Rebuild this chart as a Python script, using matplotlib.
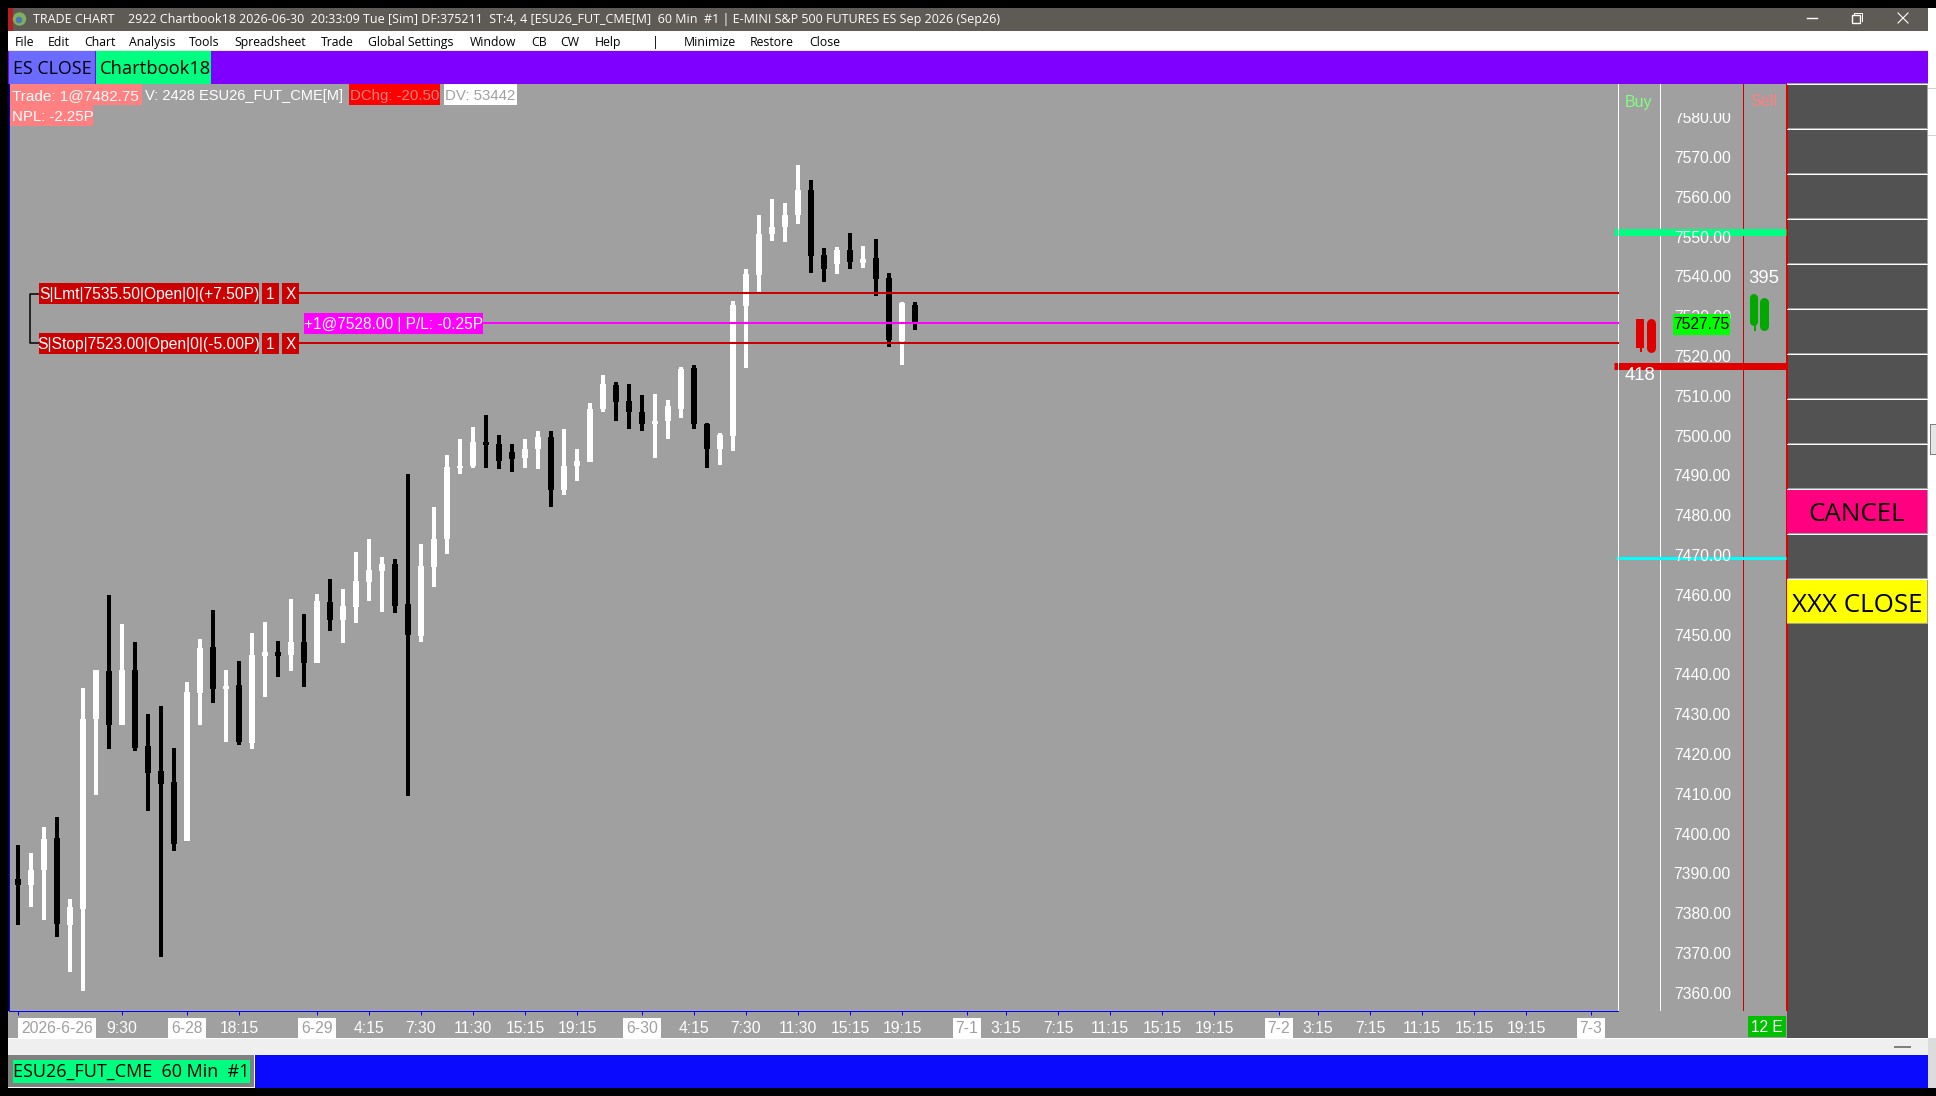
import matplotlib
matplotlib.use("Agg")
import matplotlib.pyplot as plt
from matplotlib.patches import Rectangle
from matplotlib.transforms import blended_transform_factory as blend, ScaledTranslation

W, H, DPI = 1936, 1096, 100
PX = 72 / DPI

# ---------- data ----------
highs = [7396.75,7394.75,7401.25,7404,7383.25,7436.25,7440.75,7459.75,7452.25,7447.75,
         7429.75,7431.75,7421.25,7437.75,7448.5,7456,7440.75,7443,7450,7452.75,
         7448,7458.75,7455,7460,7463.75,7461.25,7470.5,7473.75,7469.25,7468.75,
         7490,7472.5,7481.75,7494.75,7498.75,7501.75,7505,7499.75,7497.5,7498.75,
         7500.75,7500.75,7501.25,7496.25,7508,7515,7513.25,7512.75,7510,7510.25,
         7508.75,7517,7517.5,7503,7500.25,7533.5,7541.5,7555.25,7559.25,7558.25,
         7567.75,7564,7546.75,7547,7550.5,7547.25,7549,7540.5,7533.25,7533.25]
lows = [7376.75,7381.25,7378,7373.75,7365,7360.25,7409.5,7421,7427,7420.5,
        7405.5,7368.75,7395.25,7397.75,7427,7432.5,7422.75,7422,7421,7434,
        7439,7440.5,7436.5,7442.5,7450.5,7447.5,7452.5,7458.25,7455.5,7455.25,
        7409.25,7447.75,7461.75,7470,7490,7491.5,7491.5,7491.25,7490.5,7491.5,
        7491.25,7481.75,7484.75,7488.25,7493,7505.75,7503.5,7501.25,7500.75,7494,
        7498.75,7504.25,7501.25,7491.5,7492.25,7495.75,7516.75,7535.5,7548.5,7548.25,
        7553,7540.5,7538.25,7540.25,7541.5,7541.75,7534.75,7522,7517.5,7526.25]
opens = [7388.25,7386.75,7390.5,7398.5,7376.75,7380.75,7428.5,7440.5,7427,7440.75,
         7421.75,7415.5,7412.75,7397.75,7435,7446.5,7436,7437,7422.5,7444.25,
         7445.25,7444.5,7447.75,7442.5,7458,7453.5,7456.75,7463,7465.75,7467.5,
         7457.5,7449.25,7466.75,7473.75,7491.5,7492,7498,7497.5,7495.5,7494,
         7496.25,7499.25,7486,7492,7493,7506.5,7512.5,7508.5,7505.75,7502.5,
         7503.5,7506.5,7516.75,7502.5,7496.25,7499.5,7532.25,7540,7550.25,7552,
         7555.25,7561.5,7545,7542.75,7546.25,7543,7544.25,7539.25,7523.5,7532.5]
closes = [7386.75,7390.5,7398.25,7377,7381.25,7428.5,7440.75,7427,7440.75,7421.25,
          7415,7412.25,7397,7435.25,7446.25,7436,7436.75,7422.75,7444.5,7445.25,
          7444.25,7447.75,7442.5,7458.25,7453.5,7457,7463.25,7466,7467.5,7457,
          7449.5,7467,7473.75,7491.75,7492,7498,7497.25,7493.25,7493.75,7496.25,
          7499.25,7486,7492,7493.25,7506.5,7512.75,7508.25,7505.75,7502.5,7503.5,
          7507.25,7516.5,7502.5,7496.25,7499.75,7532.5,7540.25,7550.25,7552,7555.25,
          7561.5,7544.75,7541.5,7546.25,7543.25,7544,7539,7523.75,7533,7527.75]

price_ticks = list(range(7360, 7590, 10))
date_idx = [0, 13, 23, 48, 73, 97, 121]
date_lab = ["2026-6-26", "6-28", "6-29", "6-30", "7-1", "7-2", "7-3"]
time_idx = [8, 17, 27, 31, 35, 39, 43, 52, 56, 60, 64, 68, 76, 80, 84, 88, 92, 100, 104, 108, 112, 116]
time_lab = ["9:30", "18:15", "4:15", "7:30", "11:30", "15:15", "19:15", "4:15", "7:30", "11:30",
            "15:15", "19:15", "3:15", "7:15", "11:15", "15:15", "19:15", "3:15", "7:15", "11:15",
            "15:15", "19:15"]
limit_price, stop_price, entry_price, last_price = 7535.5, 7523.0, 7528.0, 7527.75
ask_level, bid_level, cyan_level = 7550.75, 7517.25, 7469.0
buy_blobs = [(7521.75, 7529.0), (7521.75, 7528.0), (7520.75, 7523.0)]
sell_blobs = [(7528.25, 7534.25), (7527.25, 7533.25), (7526.0, 7529.0)]
menu = [("File",15),("Edit",48),("Chart",84),("Analysis",129),("Tools",189),("Spreadsheet",234),
        ("Trade",321),("Global Settings",368.5),("Window",470),("CB",531.5),("CW",560),("Help",595),
        ("|",652),("Minimize",684),("Restore",750),("Close",809)]
title = ("TRADE CHART", "2922 Chartbook18 2026-06-30  20:33:09 Tue [Sim] DF:375211  ST:4, 4 [ESU26_FUT_CME[M]  "
         "60 Min  #1 | E-MINI S&P 500 FUTURES ES Sep 2026 (Sep26)")

GREY = "#A0A0A0"; DARK = "#525252"; RED = "#CC0000"; LIB = "Liberation Sans"; OS = "Open Sans"

fig = plt.figure(figsize=(W / DPI, H / DPI), dpi=DPI, facecolor="black")


def px_axes(z):
    a = fig.add_axes([0, 0, 1, 1], zorder=z)
    a.set_xlim(0, W); a.set_ylim(H, 0); a.axis("off"); a.patch.set_visible(False)
    return a


chrome = px_axes(0)
over = px_axes(5)


def box(a, x0, y0, x1, y1, c, z=1, **k):
    a.add_patch(Rectangle((x0, y0), x1 - x0, y1 - y0, facecolor=c, edgecolor="none", linewidth=0, zorder=z, **k))


def txt(a, x, y, s, px, c, ha="left", fam=LIB, z=6, **k):
    return a.text(x, y + 1.2, s, fontsize=px * PX, color=c, ha=ha, va="center", family=fam, zorder=z, **k)


# ---------- window chrome ----------
box(chrome, 1928, 8, 1936, 1088, "#FFFFFF")
box(chrome, 1928, 1038, 1936, 1088, "#DCDCDC")
box(chrome, 1928, 88, 1936, 89, "#D0D0D0", 2)
box(chrome, 1928, 135, 1936, 136, "#D0D0D0", 2)
box(chrome, 1930, 424, 1936, 455, "#808080", 2)
box(chrome, 1931, 425, 1936, 454, "#E6E6E6", 3)
box(chrome, 8, 8, 1928, 31, "#5E5A55")
box(chrome, 8, 8, 12.5, 31, "#B02020", 2)
chrome.add_patch(plt.Circle((19.5, 19), 6, color="#7FB05A", zorder=2))
chrome.add_patch(plt.Circle((19, 20), 2.6, color="#4A78B8", zorder=3))
txt(chrome, 33, 18.5, title[0], 12.5, "white", fam=OS)
txt(chrome, 128, 18.5, title[1], 12.5, "white", fam=OS)
chrome.plot([1807, 1817], [18, 18], color="white", lw=1 * PX * 1.4, zorder=3)
chrome.add_patch(Rectangle((1852, 15), 8, 8, fill=False, edgecolor="white", lw=1, zorder=3))
chrome.plot([1854, 1854, 1862, 1862], [15, 13, 13, 21], color="white", lw=0.7, zorder=3)
chrome.plot([1898, 1908], [13, 23], color="white", lw=0.8, zorder=3)
chrome.plot([1898, 1908], [23, 13], color="white", lw=0.8, zorder=3)
box(chrome, 8, 31, 1928, 50, "#FFFFFF")
box(chrome, 8, 50, 1928, 51, "#E8E8E8")
for name, x in menu:
    txt(chrome, x, 41, name, 12.3, "black", fam=OS)
box(chrome, 8, 51, 1928, 84, "#8000FF")
box(chrome, 9, 51, 95, 84, "#6B6BFF", 2)
box(chrome, 96, 51, 211, 84, "#00FF80", 2)
txt(chrome, 13, 68, "ES CLOSE", 17.7, "black", fam=OS)
txt(chrome, 100, 68, "Chartbook18", 18.4, "black", fam=OS)

# right column background and panel
box(chrome, 1618, 84, 1787, 1038, GREY)
box(chrome, 8, 1011, 1750, 1038, GREY)
box(chrome, 1787, 84, 1928, 1038, DARK)
rows = [84, 129, 174, 219, 264, 309, 354, 399, 444, 489, 534, 579, 624]
for y in rows[:-1]:
    box(chrome, 1787, y - 1, 1927.5, y + 0.5, "#A0A0A0", 2)
    box(chrome, 1787, y, 1927.5, y + 1, "#FFFFFF", 3)
box(chrome, 1926.5, 84, 1928, 624, "#A0A0A0", 2)
box(chrome, 1787, 489.5, 1927, 533, "#FF0080", 4)
box(chrome, 1787, 580, 1927, 623, "#FFFF00", 4)
box(chrome, 1787, 623, 1928, 624, "#A0A0A0", 4)
txt(chrome, 1857, 513, "CANCEL", 26, "black", ha="center", fam=OS)
txt(chrome, 1857, 604.5, "XXX CLOSE", 26, "black", ha="center", fam=OS)
box(chrome, 1743, 84, 1744, 1011, RED, 2)
box(chrome, 1785.5, 84, 1787.5, 1011, "#E00000", 2)
box(chrome, 1660, 84, 1661, 1011, "white", 2)
box(chrome, 1748, 1016, 1786, 1037, "#00C000", 3)
txt(chrome, 1767, 1026, "12 E", 15.5, "white", ha="center")

# bottom strips
box(chrome, 8, 1038, 1928, 1039, "white", 3)
box(chrome, 8, 1039, 1928, 1055, "#EFEFEF")
box(chrome, 1894, 1046, 1911, 1048, "#808080", 2)
box(chrome, 8, 1055, 1928, 1088, "#0A0AFF")
box(chrome, 8, 1055, 254.5, 1088, "#808080", 2)
box(chrome, 8, 1087, 254.5, 1088, "white", 3)
box(chrome, 253.5, 1055, 254.5, 1088, "white", 3)
box(chrome, 13, 1060, 250, 1083, "#00FF80", 3)
txt(chrome, 13, 1071, "ESU26_FUT_CME  60 Min  #1", 18, "black", fam=OS)

# ---------- chart ----------
ax = fig.add_axes([9 / W, 1 - 1011 / H, (1618 - 9) / W, (1011 - 84) / H], zorder=2, facecolor=GREY)
ax.set_xlim((9 - 18) / 13, (1618 - 18) / 13)
ax.set_ylim(7528 + (323 - 1011) / 3.98, 7528 + (323 - 84) / 3.98)
ax.set_axisbelow(False)
bt = blend(chrome.transData, ax.transData)

xs = list(range(len(opens)))
colors = ["white" if c >= o else "black" for o, c in zip(opens, closes)]
ax.bar(xs, [h - l for h, l in zip(highs, lows)], bottom=lows, width=4 / 13, color=colors, linewidth=0, zorder=3)
ax.bar(xs, [abs(c - o) for o, c in zip(opens, closes)], bottom=[min(o, c) for o, c in zip(opens, closes)],
       width=6 / 13, color=colors, linewidth=0, zorder=3)

lw2 = 2 * PX
ax.plot([299, 1618], [limit_price] * 2, color=RED, lw=lw2, transform=bt, zorder=4, clip_on=False)
ax.plot([299, 1618], [stop_price] * 2, color=RED, lw=lw2, transform=bt, zorder=4, clip_on=False)
ax.plot([483, 1618], [entry_price] * 2, color="#FF00FF", lw=lw2, transform=bt, zorder=4, clip_on=False)
ax.plot([1614, 1786], [ask_level] * 2, color="#00FF80", lw=7 * PX, transform=bt, zorder=2, clip_on=False, solid_capstyle="butt")
ax.plot([1614, 1786], [bid_level] * 2, color="#E00000", lw=7 * PX, transform=bt, zorder=2, clip_on=False, solid_capstyle="butt")
ax.plot([1616, 1786], [cyan_level] * 2, color="#00FFFF", lw=3 * PX, transform=bt, zorder=2, clip_on=False, solid_capstyle="butt")

for (lo, hi), xc, wd, cap in zip(buy_blobs, [1639.5, 1650.5, 1640.5], [8, 9, 2], ["butt", "round", "butt"]):
    ax.plot([xc, xc], [lo, hi], color="#E00000", lw=wd * PX, transform=bt, clip_on=False, zorder=4, solid_capstyle=cap)
for (lo, hi), xc, wd, cap in zip(sell_blobs, [1754, 1763.5, 1755], [8, 9, 2], ["round", "round", "butt"]):
    ax.plot([xc, xc], [lo, hi], color="#00A800", lw=wd * PX, transform=bt, clip_on=False, zorder=4, solid_capstyle=cap)

# axes, spines, ticks
ax.spines["top"].set_visible(False)
ax.spines["left"].set_color("#0000FF")
ax.spines["bottom"].set_color("#0000FF")
ax.spines["right"].set_color("white")
for s in ax.spines.values():
    s.set_linewidth(1 * PX)
ax.yaxis.tick_right()
ax.set_yticks(price_ticks)
ax.set_yticklabels([f"{p:.2f}" for p in price_ticks], family=LIB, fontsize=15.7 * PX, color="white", ha="right")
ax.tick_params(axis="y", length=0, pad=113 * PX)
for lab in ax.get_yticklabels():
    lab.set_transform(lab.get_transform() + ScaledTranslation(0, -1.2 / DPI, fig.dpi_scale_trans))

ticks = sorted(zip(date_idx + time_idx, date_lab + time_lab))
ax.set_xticks([t[0] for t in ticks])
ax.set_xticklabels([t[1] for t in ticks], family=LIB, fontsize=15.8 * PX, color="white")
ax.tick_params(axis="x", length=4 * PX, width=1 * PX, color="#0000FF", pad=6 * PX)
for lab in ax.get_xticklabels():
    if lab.get_text() in date_lab:
        lab.set_color(GREY)
        lab.set_bbox(dict(boxstyle="square,pad=0.18", facecolor="white", edgecolor="none"))
    if lab.get_text() == date_lab[0]:
        lab.set_ha("left")
        lab.set_transform(lab.get_transform() + ScaledTranslation(3 / DPI, 0, fig.dpi_scale_trans))

# ---------- overlay ----------
box(over, 1661.5, 85, 1742.5, 113, GREY, 2)
box(over, 1673, 314, 1730, 335, "#00FF00", 3)
txt(over, 1701.5, 323.5, f"{last_price:.2f}", 15.7, "black", ha="center")
txt(over, 1639, 101, "Buy", 16, "#80FF80", ha="center")
txt(over, 1764, 100, "Sell", 16, "#FF8080", ha="center")
txt(over, 1640, 374, "418", 18.5, "white", ha="center")
txt(over, 1764, 277, "395", 18.5, "white", ha="center")

box(over, 10, 84, 142, 105, "#FF8080", 2)
box(over, 10, 105, 93, 126, "#FF8080", 2)
box(over, 349, 84, 440, 105, "#FF0000", 2)
box(over, 444, 84, 517, 105, "#FFFFFF", 2)
txt(over, 12, 95, "Trade: 1@7482.75", 15.3, "white")
txt(over, 145, 95, "V: 2428 ESU26_FUT_CME[M]", 14.6, "white")
txt(over, 350, 95, "DChg: -20.50", 15, "#FF8080")
txt(over, 445, 95, "DV: 53442", 15, GREY)
txt(over, 12, 116, "NPL: -2.25P", 15, "white")

over.plot([39, 29.5, 29.5, 39], [293.5, 293.5, 343, 343], color="black", lw=1.5 * PX, zorder=2)
for y0, s in [(283, f"S|Lmt|{limit_price:.2f}|Open|0|(+7.50P)"), (333, f"S|Stop|{stop_price:.2f}|Open|0|(-5.00P)")]:
    box(over, 39, y0, 259, y0 + 21, "#CC0000", 3)
    box(over, 262, y0, 279, y0 + 21, "#CC0000", 3)
    box(over, 282, y0, 299, y0 + 21, "#CC0000", 3)
    txt(over, 149, y0 + 10.5, s, 15.6, "white", ha="center")
    txt(over, 270.5, y0 + 10.5, "1", 15.5, "white", ha="center")
    txt(over, 290.5, y0 + 10.5, "X", 15.5, "white", ha="center")
box(over, 304, 313, 483, 334, "#FF00FF", 3)
txt(over, 393.5, 323.5, f"+1@{entry_price:.2f} | P/L: -0.25P", 15.5, "white", ha="center")

fig.savefig("out.png", dpi=DPI, facecolor="black")
